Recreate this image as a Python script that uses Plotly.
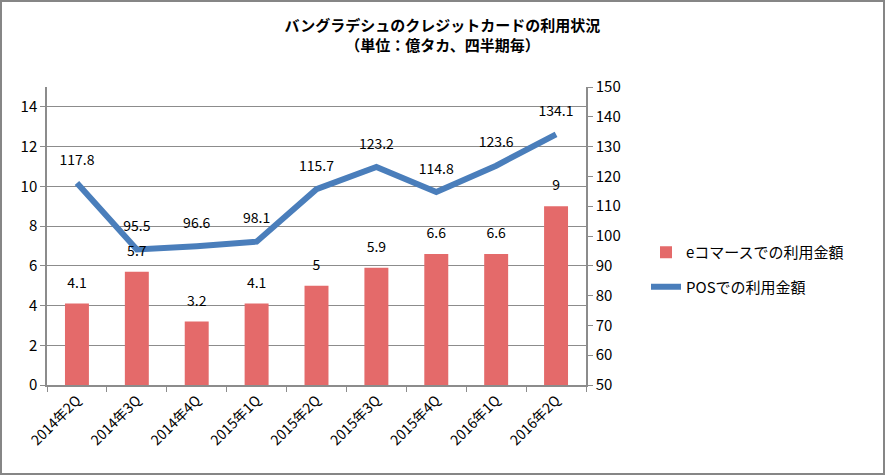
import plotly.graph_objects as go

quarters = ["2014年2Q", "2014年3Q", "2014年4Q", "2015年1Q", "2015年2Q",
            "2015年3Q", "2015年4Q", "2016年1Q", "2016年2Q"]
ecommerce = [4.1, 5.7, 3.2, 4.1, 5, 5.9, 6.6, 6.6, 9]
pos = [117.8, 95.5, 96.6, 98.1, 115.7, 123.2, 114.8, 123.6, 134.1]
left_ticks = [0, 2, 4, 6, 8, 10, 12, 14]
right_ticks = [50, 60, 70, 80, 90, 100, 110, 120, 130, 140, 150]

FONT = "Noto Sans CJK JP"
GRID = "#8c8c8c"

fig = go.Figure()
fig.add_trace(go.Bar(
    x=quarters, y=ecommerce, name="eコマースでの利用金額",
    marker=dict(color="#e46a6a", line=dict(width=0)),
    width=0.4, legendgroup="a", yaxis="y",
))
fig.add_trace(go.Scatter(
    x=quarters, y=pos, name="POSでの利用金額",
    mode="lines+markers+text", line=dict(color="#4a7ebb", width=6),
    marker=dict(size=22, color="rgba(0,0,0,0)"),
    text=[str(v) for v in pos], textposition="top center",
    textfont=dict(size=14, color="black"), cliponaxis=False,
    legendgroup="b", yaxis="y2",
))
# bar value labels, drawn on top of the line (same scale as left axis)
fig.add_trace(go.Scatter(
    x=quarters, y=ecommerce, mode="markers+text", showlegend=False,
    marker=dict(size=18, color="rgba(0,0,0,0)"),
    text=[str(v) for v in ecommerce], textposition="top center",
    textfont=dict(size=14, color="black"), cliponaxis=False,
    hoverinfo="skip", yaxis="y3",
))

W, H = 885, 475
L, R, T, B = 47, 299, 87, 90
pw, ph = W - L - R, H - T - B

def px_x(p):
    return (p - L) / pw

def px_y(p):
    return (H - B - p) / ph

fig.update_layout(
    width=W, height=H,
    margin=dict(l=L, r=R, t=T, b=B),
    paper_bgcolor="white", plot_bgcolor="white",
    font=dict(family=FONT, size=14, color="black"),
    title=dict(
        text="<b>バングラデシュのクレジットカードの利用状況</b><br><b>（単位：億タカ、四半期毎）</b>",
        x=0.5, xanchor="center", y=1 - 31 / H, yanchor="top",
        font=dict(size=15, family=FONT),
    ),
    showlegend=True,
    legend=dict(
        x=px_x(646), xanchor="left", y=px_y(236), yanchor="top",
        font=dict(size=15), traceorder="grouped", tracegroupgap=12,
        bgcolor="rgba(0,0,0,0)",
    ),
    xaxis=dict(
        type="category", tickangle=-45, showgrid=False,
        showline=True, linecolor=GRID, linewidth=1.5,
        ticks="outside", ticklen=5, tickcolor=GRID, tickson="boundaries",
        tickfont=dict(size=14), range=[-0.5, 8.5],
    ),
    yaxis=dict(
        range=[0, 15], tickvals=left_ticks, showgrid=True, gridcolor=GRID,
        gridwidth=1, showline=True, linecolor=GRID, linewidth=1.5,
        ticks="outside", ticklen=5, tickcolor=GRID, zeroline=False,
        tickfont=dict(size=15),
    ),
    yaxis2=dict(
        range=[50, 150], tickvals=right_ticks, overlaying="y", side="right",
        showgrid=False, showline=True, linecolor=GRID, linewidth=1.5,
        ticks="outside", ticklen=5, tickcolor=GRID, zeroline=False,
        tickfont=dict(size=15),
    ),
    yaxis3=dict(
        range=[0, 15], overlaying="y", visible=False, showgrid=False,
        zeroline=False,
    ),
    shapes=[dict(
        type="rect", xref="paper", yref="paper",
        x0=px_x(1), x1=px_x(884), y0=px_y(474), y1=px_y(1),
        line=dict(color="#868686", width=2), fillcolor="rgba(0,0,0,0)",
        layer="above",
    )],
)

fig.write_html("out.html", config={"displayModeBar": False},
               post_script="document.body.style.margin='0';")
